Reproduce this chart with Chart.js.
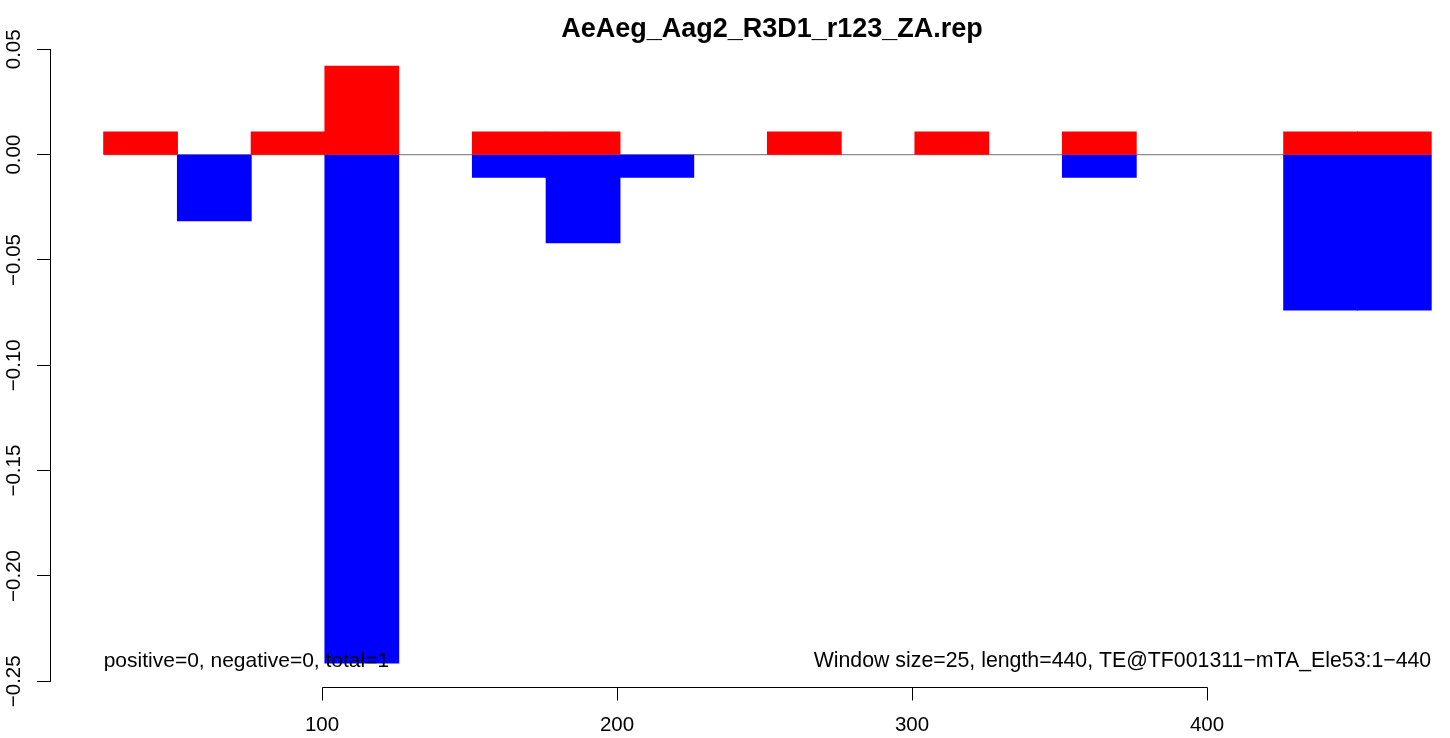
<!DOCTYPE html>
<html><head><meta charset="utf-8">
<script src="https://cdn.jsdelivr.net/npm/chart.js@4/dist/chart.umd.min.js"></script>
<style>html,body{margin:0;padding:0;background:#fff}#wrap{width:1450px;height:738px}</style>
</head><body><div id="wrap"><canvas id="c" width="1450" height="738"></canvas></div>
<script>
// ---- data ----
const chartTitle = "AeAeg_Aag2_R3D1_r123_ZA.rep";
const windowSize = 25;
const windowStarts = [26, 51, 76, 101, 126, 151, 176, 201, 226, 251, 276, 301, 326, 351, 376, 401, 426, 451];
const positiveValues = [0.0107, null, 0.0107, 0.0420, null, 0.0107, 0.0107, null, null, 0.0107, null, 0.0107, null, 0.0107, null, null, 0.0107, 0.0107];
const negativeValues = [null, -0.0314, null, -0.2413, null, -0.0107, -0.0418, -0.0107, null, null, null, null, null, -0.0107, null, null, -0.0737, -0.0737];
const yTicks = [-0.25, -0.20, -0.15, -0.10, -0.05, 0.00, 0.05];
const xTicks = [100, 200, 300, 400];
const leftNote = "positive=0, negative=0, total=1";
const rightNote = "Window size=25, length=440, TE@TF001311\u2212mTA_Ele53:1\u2212440";

// ---- chart ----
const FONT = "'Liberation Sans', Arial, Helvetica, sans-serif";
const centers = windowStarts.map(s => s + windowSize / 2);
const firstX = windowStarts[0];
const lastX = windowStarts[windowStarts.length - 1] + windowSize;
const fmt = v => (Math.abs(v) < 1e-12 ? 0 : v).toFixed(2).replace('-', '\u2212');

const rPlot = {
  id: 'rPlot',
  afterDraw(chart) {
    const ctx = chart.ctx;
    const xs = chart.scales.x, ys = chart.scales.y;
    const ca = chart.chartArea;
    ctx.save();
    ctx.fillStyle = '#000';
    ctx.strokeStyle = '#000';
    // title
    ctx.font = "bold 27px " + FONT;
    ctx.textAlign = 'center';
    ctx.textBaseline = 'alphabetic';
    ctx.fillText(chartTitle, 772, 36.5);
    // y tick labels, rotated
    ctx.font = "20.5px " + FONT;
    ys.ticks.forEach(t => {
      const py = ys.getPixelForValue(t.value);
      ctx.save();
      ctx.translate(19.5, py);
      ctx.rotate(-Math.PI / 2);
      ctx.textAlign = 'center';
      ctx.textBaseline = 'alphabetic';
      ctx.fillText(fmt(t.value), 0, 0);
      ctx.restore();
    });
    // x axis line and ticks
    const axY = Math.round(ca.bottom) + 6;
    ctx.lineWidth = 1;
    ctx.beginPath();
    const x0 = Math.round(xs.getPixelForValue(xTicks[0])) + 0.5;
    const x1 = Math.round(xs.getPixelForValue(xTicks[xTicks.length - 1])) + 0.5;
    ctx.moveTo(x0, axY + 0.5); ctx.lineTo(x1, axY + 0.5);
    xTicks.forEach(v => {
      const px = Math.round(xs.getPixelForValue(v)) + 0.5;
      ctx.moveTo(px, axY + 0.5); ctx.lineTo(px, axY + 13.5);
    });
    ctx.stroke();
    // notes
    const minNeg = Math.min(...negativeValues.filter(v => v !== null));
    const ny = ys.getPixelForValue(minNeg) + 4;
    ctx.font = "21px " + FONT;
    ctx.textBaseline = 'alphabetic';
    ctx.textAlign = 'left';
    ctx.fillText(leftNote, xs.getPixelForValue(firstX), ny);
    ctx.font = "21.3px " + FONT;
    ctx.textAlign = 'right';
    ctx.fillText(rightNote, xs.getPixelForValue(lastX), ny);
    ctx.restore();
  }
};

new Chart(document.getElementById('c'), {
  type: 'bar',
  data: {
    datasets: [
      {
        type: 'bar', label: 'positive',
        data: centers.map((x, i) => ({ x, y: positiveValues[i] })),
        backgroundColor: '#ff0000', borderWidth: 0, grouped: false, inflateAmount: 0.5,
        barPercentage: 1, categoryPercentage: 1, order: 0
      },
      {
        type: 'bar', label: 'negative',
        data: centers.map((x, i) => ({ x, y: negativeValues[i] })),
        backgroundColor: '#0000ff', borderWidth: 0, grouped: false, inflateAmount: 0.5,
        barPercentage: 1, categoryPercentage: 1, order: 0
      },
      {
        type: 'line', label: 'zero',
        data: [{ x: firstX, y: 0 }, { x: lastX, y: 0 }],
        borderColor: '#8c8c8c', borderWidth: 1.2, pointRadius: 0, order: 5
      }
    ]
  },
  options: {
    responsive: false,
    devicePixelRatio: 1,
    animation: false,
    layout: { padding: { top: 49.3, left: 0, right: 0, bottom: 0 } },
    plugins: { legend: { display: false }, tooltip: { enabled: false }, title: { display: false } },
    scales: {
      x: {
        type: 'linear', position: 'bottom', min: 7.8, max: 482.37, offset: false,
        grid: { display: false, drawTicks: false, offset: false },
        border: { display: false },
        ticks: { font: { family: FONT, size: 20.5 }, color: '#000', padding: 32, autoSkip: false, maxRotation: 0 },
        afterBuildTicks: s => { s.ticks = xTicks.map(v => ({ value: v })); },
        afterFit: s => { s.height = 56.7; }
      },
      y: {
        type: 'linear', min: yTicks[0], max: yTicks[yTicks.length - 1],
        grid: { display: true, drawOnChartArea: false, drawTicks: true, tickLength: 13, color: '#000', lineWidth: 1 },
        border: { display: true, color: '#000', width: 1 },
        ticks: { display: false },
        afterBuildTicks: s => { s.ticks = yTicks.map(v => ({ value: v })); },
        afterFit: s => { s.width = 50; }
      }
    }
  },
  plugins: [rPlot]
});
</script>
</body></html>
